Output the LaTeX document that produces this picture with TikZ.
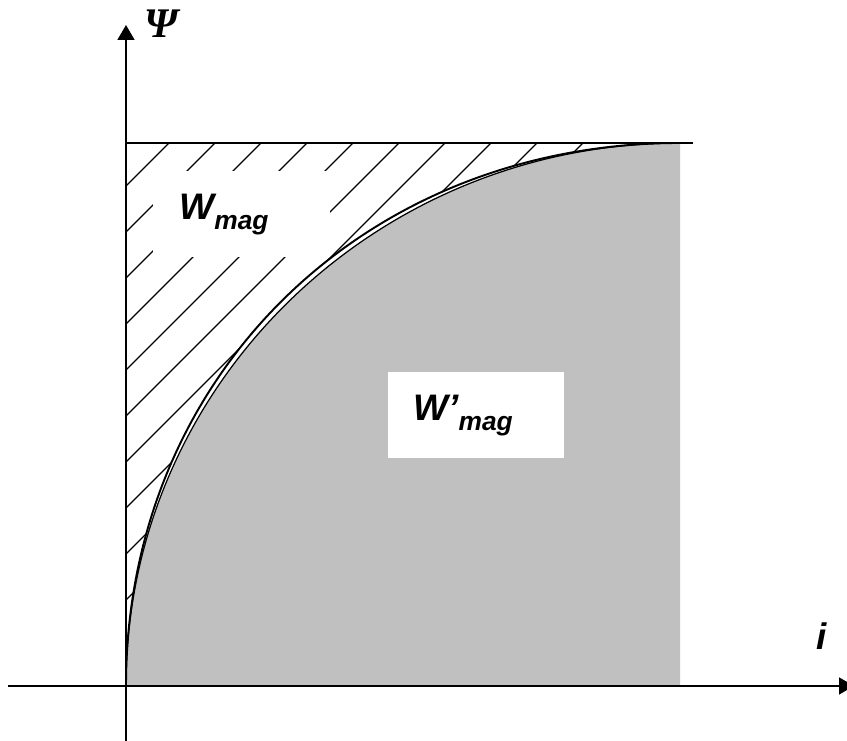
\documentclass[tikz,border=0pt]{standalone}
\usepackage{fontspec}
\setmainfont{Liberation Sans}
\newfontfamily\grkfont{Liberation Serif}
\usetikzlibrary{arrows.meta}
\definecolor{fluxgray}{HTML}{C0C0C0}
\tikzset{
  axisline/.style={-{Triangle[length=3mm,width=3.4mm]},line width=0.9pt,black},
  hatchline/.style={line width=0.7pt,black},
  curveout/.style={line width=1.1pt,black},
  curvein/.style={line width=0.7pt,black},
  lblbox/.style={fill=white,inner xsep=5.2mm,inner ysep=0pt,text width=24.8mm,align=left,minimum height=17.2mm,font=\fontsize{21}{24}\selectfont\bfseries\itshape},
  axlabel/.style={font=\fontsize{21}{24}\selectfont\bfseries\itshape},
}
\newcommand{\wsub}[1]{\raisebox{-2mm}{\fontsize{15}{18}\selectfont #1}}

\begin{document}
\begin{tikzpicture}
  \useasboundingbox (-2.52,-1.10) rectangle (14.42,13.72);
  \coordinate (nO) at (0,0);
  \coordinate (nT) at (11.08,10.86);
  \coordinate (nTL) at (0,10.86);
  \coordinate (nTE) at (11.34,10.86);
  \coordinate (nBR) at (11.08,0);
  \coordinate (nXs) at (-2.36,0);
  \coordinate (nXe) at (14.56,0);
  \coordinate (nYs) at (0,-1.10);
  \coordinate (nYe) at (0,13.22);
  % hatching above the curve
  \begin{scope}
    \clip (nO) -- (nTL) -- (nT) .. controls (4.76,10.86) and (0,6.20) .. (nO);
    \foreach \k in {0,...,9}
      \draw[hatchline] (-1,{9-0.92*\k}) -- ++(13,13);
  \end{scope}
  % gray area under the curve
  \fill[fluxgray] (nO) .. controls (0,6.00) and (4.96,10.86) .. (nT) -- (nBR) -- cycle;
  \draw[curveout] (nO) .. controls (0,6.20) and (4.76,10.86) .. (nT);
  \draw[curvein] (nO) .. controls (0,6.00) and (4.96,10.86) .. (nT);
  \draw[hatchline] (nTL) -- (nTE);
  % axes
  \draw[axisline] (nXs) -- (nXe);
  \draw[axisline] (nYs) -- (nYe);
  \node (lPsi) at (0.70,13.24) {\grkfont\fontsize{24}{26}\selectfont\bfseries\itshape Ψ};
  \node[axlabel] (lI) at (13.92,1.0) {i};
  \node[lblbox] (lWmag) at (2.31,9.43) {W\wsub{mag}};
  \node[lblbox] (lWpmag) at (6.99,5.41) {W’\wsub{mag}};
\end{tikzpicture}
\end{document}
